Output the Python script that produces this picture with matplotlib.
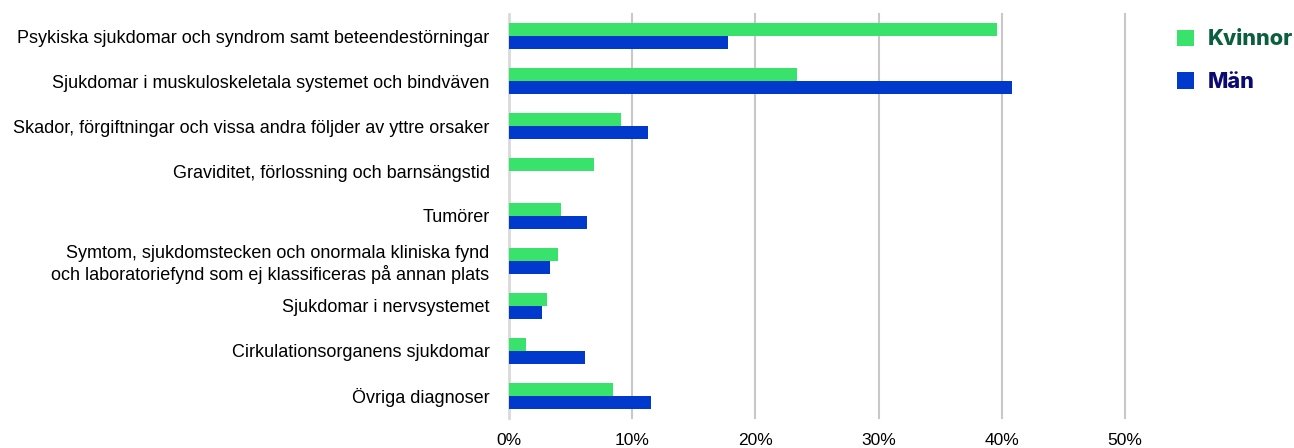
import numpy as np
import matplotlib
matplotlib.use('Agg')
import matplotlib.pyplot as plt

# Data: andel sjukskrivna per diagnosgrupp (%)
kategorier = [
    'Psykiska sjukdomar och syndrom samt beteendestörningar',
    'Sjukdomar i muskuloskeletala systemet och bindväven',
    'Skador, förgiftningar och vissa andra följder av yttre orsaker',
    'Graviditet, förlossning och barnsängstid',
    'Tumörer',
    'Symtom, sjukdomstecken och onormala kliniska fynd\noch laboratoriefynd som ej klassificeras på annan plats',
    'Sjukdomar i nervsystemet',
    'Cirkulationsorganens sjukdomar',
    'Övriga diagnoser',
]
kvinnor = [39.6, 23.4, 9.1, 6.9, 4.2, 4.0, 3.1, 1.4, 8.4]
man = [17.8, 40.8, 11.3, 0.0, 6.3, 3.3, 2.7, 6.2, 11.5]
xticks = [0, 10, 20, 30, 40, 50]

plt.rcParams['font.family'] = ['Liberation Sans', 'DejaVu Sans']

fig = plt.figure(figsize=(12.94, 4.48), dpi=100)
ax = fig.add_axes([0.3934, 0.067, 0.476, 0.902])

y = np.arange(len(kategorier))
h = 0.29
ax.barh(y - h / 2, kvinnor, height=h, color='#39E26A', label='Kvinnor', zorder=3)
ax.barh(y + h / 2, man, height=h, color='#0039CC', label='Män', zorder=3)

ax.set_ylim(len(kategorier) - 0.5, -0.5)
ax.set_xlim(0, 50)
ax.set_yticks(y)
ax.set_yticklabels(kategorier, fontsize=13)
ax.set_xticks(xticks)
ax.set_xticklabels([f'{t}%' for t in xticks], fontsize=12.5)
ax.tick_params(axis='y', length=0, pad=14)
ax.tick_params(axis='x', length=0, pad=11)

for t in xticks:
    ax.axvline(t, color='#d9d9d9' if t == 0 else '#c8c8c8', lw=2 if t == 0 else 1.5, zorder=1, clip_on=False)
for s in ax.spines.values():
    s.set_visible(False)

leg = ax.legend(loc='upper left', bbox_to_anchor=(1.053, 1.01), frameon=False,
                handlelength=0.8, handleheight=0.8, handletextpad=0.65, labelspacing=1.05,
                prop={'family': 'Inter', 'weight': 'heavy', 'size': 15.5},
                labelcolor=['#0B5E3E', '#0A0A70'])

fig.savefig('out.png', dpi=100)
